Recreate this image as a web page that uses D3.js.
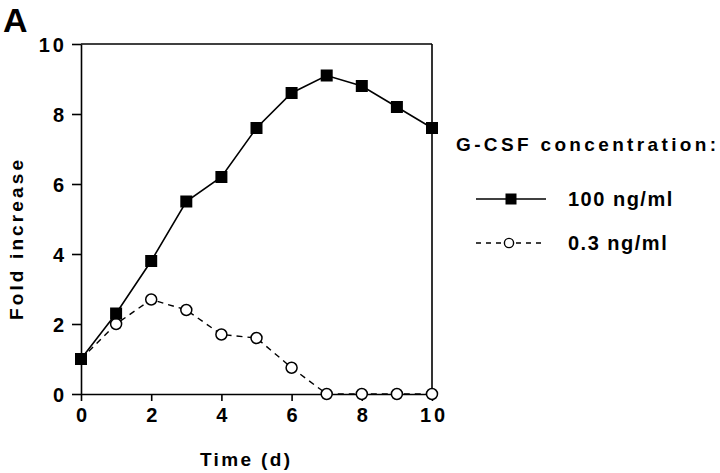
<!DOCTYPE html>
<html><head><meta charset="utf-8">
<script src="https://cdn.jsdelivr.net/npm/d3@7"></script>
<style>
body{margin:0;background:#fff;}
text{font-family:"Liberation Sans",Arial,Helvetica,sans-serif;font-weight:bold;fill:#000;}
</style></head>
<body><svg id="c" width="720" height="473"></svg>
<script>
const days = [0,1,2,3,4,5,6,7,8,9,10];
const high = [1.0,2.3,3.8,5.5,6.2,7.6,8.6,9.1,8.8,8.2,7.6];
const low  = [1.0,2.0,2.7,2.4,1.7,1.6,0.75,0,0,0,0];
const xTicks = [0,2,4,6,8,10];
const yTicks = [0,2,4,6,8,10];
const seriesNames = ["100 ng/ml","0.3 ng/ml"];
const legendTitle = "G-CSF concentration:";

const svg = d3.select("#c");
const L=81,R=432,T=44,B=394;
const x = d3.scaleLinear().domain([0,10]).range([L,R]);
const y = d3.scaleLinear().domain([0,10]).range([B,T]);

svg.append("line").attr("x1",L).attr("x2",R).attr("y1",T).attr("y2",T).attr("stroke","#000").attr("stroke-width",1.6);
svg.append("line").attr("x1",R).attr("x2",R).attr("y1",T).attr("y2",B).attr("stroke","#000").attr("stroke-width",1.6);

const gx = svg.append("g").attr("transform",`translate(0,${B})`)
  .call(d3.axisBottom(x).tickValues(xTicks).tickSize(7).tickSizeOuter(0).tickPadding(7));
const gy = svg.append("g").attr("transform",`translate(${L},0)`)
  .call(d3.axisLeft(y).tickValues(yTicks).tickSize(9).tickSizeOuter(0).tickPadding(8));
[gx,gy].forEach(g=>{
  g.select(".domain").attr("stroke-width",1.6);
  g.selectAll(".tick line").attr("stroke-width",1.6);
  g.selectAll(".tick text").style("font-family",'"Liberation Sans",Arial,sans-serif')
   .style("font-weight","bold").style("font-size","20px").style("letter-spacing","3px");
});
gy.selectAll(".tick text").attr("dy","0.36em").attr("dx","3px");
gx.selectAll(".tick text").attr("dx","1.5px");

const line = d3.line().x((d,i)=>x(days[i])).y(d=>y(d));
svg.append("path").datum(low).attr("d",line).attr("fill","none").attr("stroke","#000")
  .attr("stroke-width",1.4).attr("stroke-dasharray","6,5");
svg.append("path").datum(high).attr("d",line).attr("fill","none").attr("stroke","#000")
  .attr("stroke-width",1.6);

svg.selectAll("circle.low").data(low.slice(1)).join("circle")
  .attr("cx",(d,i)=>x(days[i+1])).attr("cy",d=>y(d)).attr("r",5.5)
  .attr("fill","#fff").attr("stroke","#000").attr("stroke-width",1.5);
const s=12;
svg.selectAll("rect.high").data(high).join("rect")
  .attr("x",(d,i)=>x(days[i])-s/2).attr("y",d=>y(d)-s/2).attr("width",s).attr("height",s)
  .attr("fill","#000");

svg.append("text").attr("x",3).attr("y",32).style("font-size","34px").text("A");
svg.append("text").attr("x",245).attr("y",466).attr("text-anchor","middle")
  .style("font-size","19px").attr("textLength",90).attr("lengthAdjust","spacing").text("Time (d)");
svg.append("text").attr("transform","translate(23,240) rotate(-90)").attr("text-anchor","middle")
  .style("font-size","19px").attr("textLength",160).attr("lengthAdjust","spacing").text("Fold increase");

svg.append("text").attr("x",456).attr("y",151).style("font-size","19px")
  .attr("textLength",260).attr("lengthAdjust","spacing").text(legendTitle);
const lg = svg.append("g");
const rows=[199,243];
lg.append("line").attr("x1",476).attr("x2",546).attr("y1",rows[0]).attr("y2",rows[0]).attr("stroke","#000").attr("stroke-width",1.6);
lg.append("rect").attr("x",511-5.5).attr("y",rows[0]-5.5).attr("width",11).attr("height",11).attr("fill","#000");
lg.append("line").attr("x1",476).attr("x2",546).attr("y1",rows[1]).attr("y2",rows[1]).attr("stroke","#000").attr("stroke-width",1.4).attr("stroke-dasharray","5,5");
lg.append("circle").attr("cx",509).attr("cy",rows[1]).attr("r",4.6).attr("fill","#fff").attr("stroke","#000").attr("stroke-width",1.4);
seriesNames.forEach((n,i)=>{
  lg.append("text").attr("x",568).attr("y",rows[i]+7).style("font-size","20px").style("letter-spacing","1.5px").text(n);
});
</script></body></html>
